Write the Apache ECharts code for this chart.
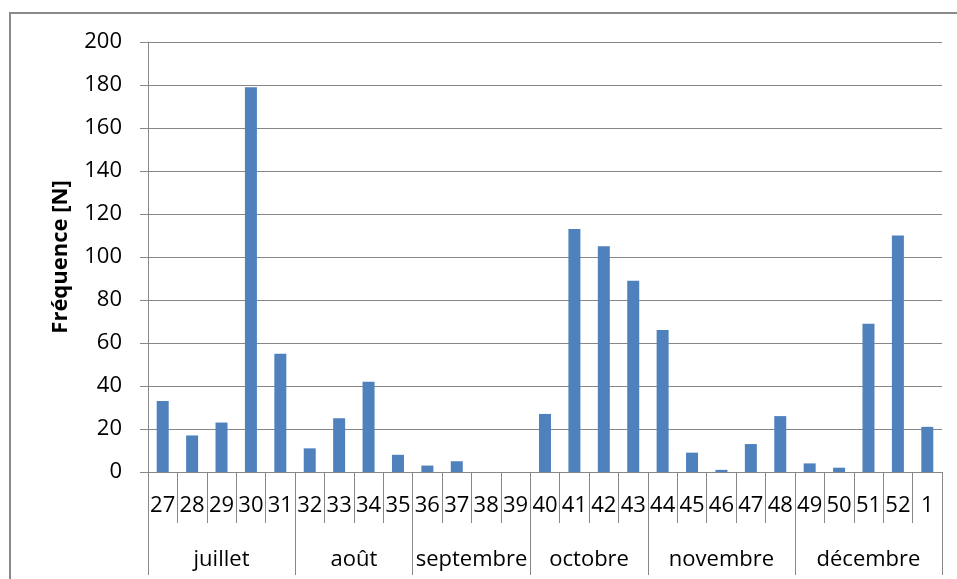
<!DOCTYPE html>
<html>
<head>
<meta charset="utf-8">
<script src="https://cdn.jsdelivr.net/npm/echarts@6/dist/echarts.min.js"></script>
<style>
  html, body { margin: 0; padding: 0; background: #fff; }
  #chart { width: 957px; height: 579px; }
</style>
</head>
<body>
<div id="chart"></div>
<script>
// Week numbers (July to the first week of the new year)
const weeks = ['27','28','29','30','31','32','33','34','35','36','37','38','39','40',
               '41','42','43','44','45','46','47','48','49','50','51','52','1'];
// Weekly frequency counts
const frequency = [33,17,23,179,55,11,25,42,8,3,5,0,0,27,113,105,89,66,9,1,13,26,4,2,69,110,21];
// Month groups and how many weeks each one spans
const months = ['juillet','août','septembre','octobre','novembre','décembre'];
const monthWeekCounts = [5,4,4,4,5,5];
// Y axis ticks
const yMin = 0, yMax = 200, yStep = 20;

// Month boundaries and label centres, in week-slot units along the category band
const monthEdges = [0];
monthWeekCounts.forEach(n => monthEdges.push(monthEdges[monthEdges.length - 1] + n));
const monthCenters = months.map((m, i) => (monthEdges[i] + monthEdges[i + 1]) / 2);

const FONT = '"Open Sans", "Liberation Sans", sans-serif';
const GRAY = '#878787';

const chart = echarts.init(document.getElementById('chart'));
chart.setOption({
  animation: false,
  textStyle: { fontFamily: FONT },
  graphic: [{
    type: 'rect',
    shape: { x: 10, y: 13, width: 980, height: 600 },
    style: { fill: 'none', stroke: '#8a8a8a', lineWidth: 2 },
    silent: true
  }],
  grid: { left: 148, right: 15, top: 42, bottom: 107 },
  xAxis: [{
    type: 'category',
    data: weeks,
    boundaryGap: true,
    axisLine: { lineStyle: { color: GRAY, width: 1 } },
    axisTick: { show: true, interval: 0, length: 51, alignWithLabel: false,
                lineStyle: { color: GRAY, width: 1 } },
    axisLabel: { interval: 0, margin: 23, fontSize: 22, color: '#000', fontFamily: FONT },
    splitLine: { show: false }
  }, {
    type: 'value',
    min: 0,
    max: weeks.length,
    position: 'bottom',
    axisLine: { show: false },
    splitLine: { show: false },
    axisTick: { show: true, inside: false, length: 103, customValues: monthEdges,
                lineStyle: { color: GRAY, width: 1 } },
    axisLabel: {
      show: true, margin: 77, fontSize: 22, color: '#000', fontFamily: FONT,
      customValues: monthCenters,
      formatter: v => {
        const i = monthCenters.findIndex(c => Math.abs(c - v) < 1e-6);
        return i >= 0 ? months[i] : '';
      }
    }
  }],
  yAxis: {
    type: 'value',
    min: yMin, max: yMax, interval: yStep,
    name: 'Fréquence [N]',
    nameLocation: 'middle',
    nameGap: 76,
    nameTextStyle: { fontSize: 22, fontWeight: 'bold', color: '#000', fontFamily: FONT },
    axisLine: { show: true, lineStyle: { color: GRAY, width: 1 } },
    axisTick: { show: true, length: 8, lineStyle: { color: GRAY, width: 1 } },
    axisLabel: { margin: 26, fontSize: 22, color: '#000', fontFamily: FONT },
    splitLine: { show: true, lineStyle: { color: GRAY, width: 1 } }
  },
  series: [{
    type: 'bar',
    xAxisIndex: 0,
    data: frequency,
    barWidth: 12,
    itemStyle: { color: '#4f81bd' }
  }]
});
</script>
</body>
</html>
